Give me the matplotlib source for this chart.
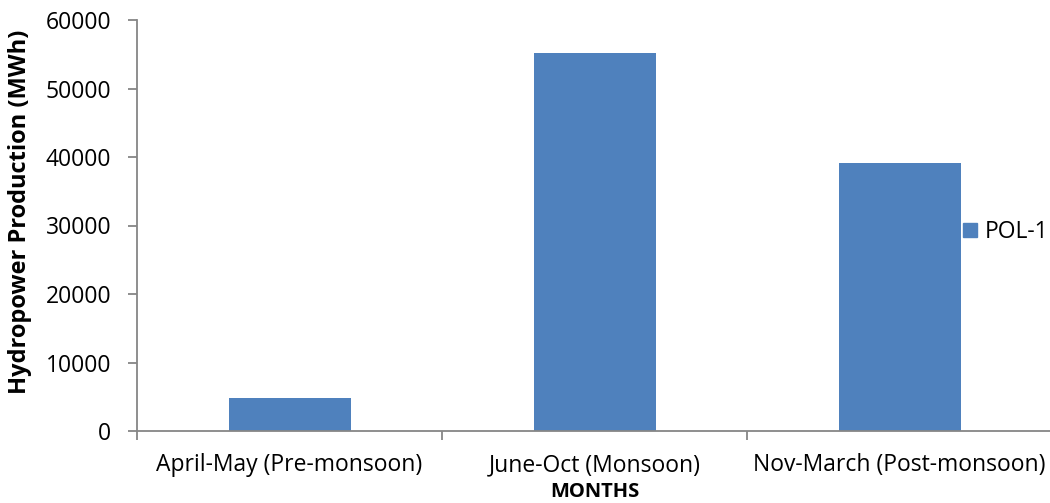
import numpy as np
import matplotlib
matplotlib.use("Agg")
import matplotlib.pyplot as plt
from matplotlib.patches import Patch

categories = ["April-May (Pre-monsoon)", "June-Oct (Monsoon)", "Nov-March (Post-monsoon)"]
pol1 = [4800, 55200, 39100]
yticks = [0, 10000, 20000, 30000, 40000, 50000, 60000]

plt.rcParams['font.family'] = ['Open Sans', 'DejaVu Sans']
axis_col = "#868686"
bar_col = "#4F81BD"

fig = plt.figure(figsize=(10.5, 5.03), dpi=100)
ax = fig.add_axes([137 / 1050, 72 / 503, 915 / 1050, 411 / 503])

x = np.arange(len(categories))
ax.bar(x, pol1, width=0.4, color=bar_col, zorder=2)

ax.set_xlim(-0.5, 2.5)
ax.set_ylim(0, 60000)
ax.set_yticks(yticks)
ax.set_yticklabels([str(v) for v in yticks], fontsize=16.5)
ax.set_xticks(x)
ax.set_xticklabels(categories, fontsize=16.5)
ax.set_xticks(np.arange(len(categories) + 1) - 0.5, minor=True)
ax.tick_params(axis="x", which="major", length=0, pad=16)
ax.tick_params(axis="x", which="minor", length=6.5, color=axis_col, width=1.3, direction="out")
ax.tick_params(axis="y", length=6.5, color=axis_col, width=1.3, pad=12)

for s in ["top", "right"]:
    ax.spines[s].set_visible(False)
for s in ["left", "bottom"]:
    ax.spines[s].set_color(axis_col)
    ax.spines[s].set_linewidth(1.3)

ax.set_xlabel("MONTHS", fontsize=14.5, fontweight="bold")
ax.xaxis.set_label_coords(0.5, -0.123)
ax.set_ylabel("Hydropower Production (MWh)", fontsize=17, fontweight="bold")
ax.yaxis.set_label_coords(-0.115, 0.533)

handles = [Patch(color=bar_col, label="POL-1")]
fig.legend(handles=handles, loc="center left", bbox_to_anchor=(963 / 1050, 1 - 232 / 503),
           frameon=False, fontsize=16.5, handlelength=0.61, handleheight=0.61,
           handletextpad=0.35, borderpad=0, borderaxespad=0)

fig.savefig("out.png", dpi=100)
